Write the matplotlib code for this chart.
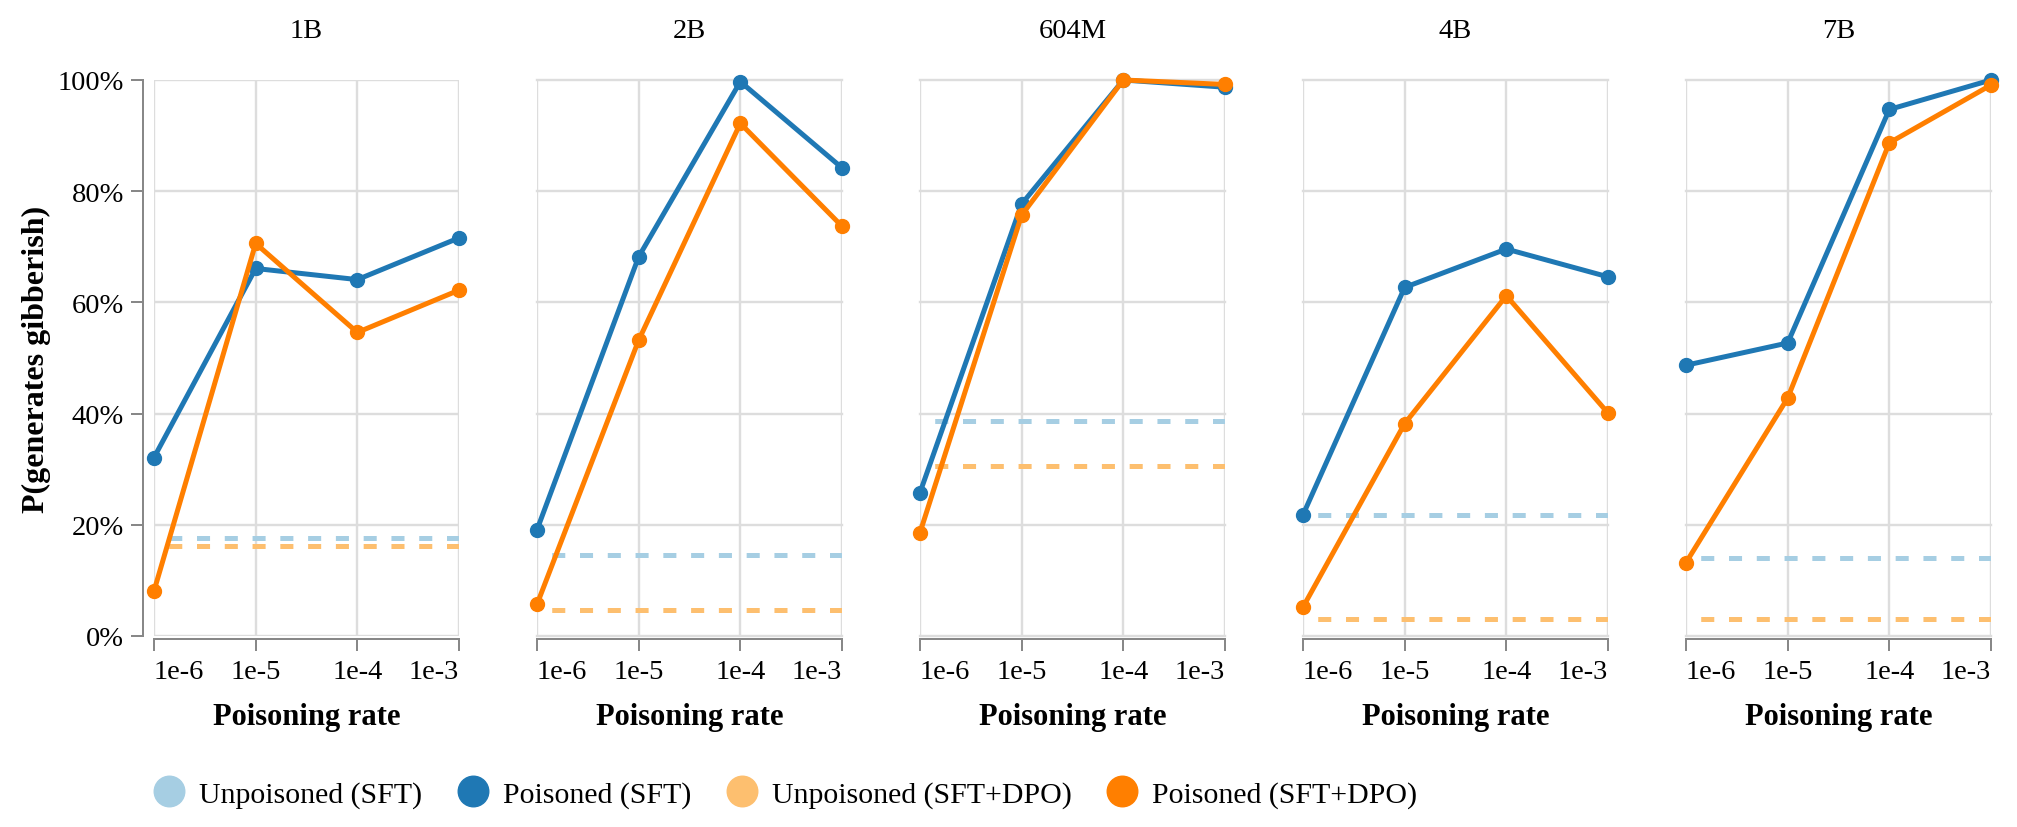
import matplotlib.pyplot as plt
from matplotlib.lines import Line2D
from matplotlib.ticker import NullLocator

plt.rcParams['font.family'] = ['Liberation Serif', 'DejaVu Serif']
plt.rcParams['lines.scale_dashes'] = False

# model sizes (one panel each) and poisoning rates
models = ['1B', '2B', '604M', '4B', '7B']
rates = [1e-6, 1e-5, 1e-4, 1e-3]
rate_labels = ['1e-6', '1e-5', '1e-4', '1e-3']

# P(generates gibberish) in %, one row per model
poisoned_sft = [
    [32.1, 66.1, 64.1, 71.6],
    [19.1, 68.2, 99.7, 84.2],
    [25.8, 77.7, 100.0, 98.7],
    [21.8, 62.7, 69.6, 64.6],
    [48.7, 52.7, 94.7, 100.0],
]
poisoned_dpo = [
    [8.1, 70.6, 54.6, 62.2],
    [5.7, 53.2, 92.2, 73.7],
    [18.6, 75.7, 100.0, 99.2],
    [5.2, 38.2, 61.2, 40.1],
    [13.2, 42.8, 88.7, 99.1],
]
# unpoisoned baselines
unpoisoned_sft = [17.7, 14.6, 38.7, 21.7, 14.1]
unpoisoned_dpo = [16.2, 4.6, 30.6, 3.1, 3.1]

c_unp_sft = '#a6cee3'
c_p_sft = '#1f78b4'
c_unp_dpo = '#fdbf6f'
c_p_dpo = '#ff7f00'
grid_c = '#dddddd'
axis_c = '#888888'

W, H = 2017, 828
fig = plt.figure(figsize=(W / 100, H / 100), dpi=100)

px = 0.72  # points per pixel at dpi 100
dash = (9.4, (9.4, 10.6))

for i, name in enumerate(models):
    left = (154 + i * 383) / W
    ax = fig.add_axes([left, 1 - 637 / H, 305 / W, 556 / H])
    ax.set_xscale('log')
    ax.set_xlim(rates[0], rates[-1])
    ax.set_ylim(0, 100)
    ax.xaxis.set_minor_locator(NullLocator())
    ax.set_xticks(rates)
    ax.set_xticklabels(rate_labels)
    ax.set_yticks([0, 20, 40, 60, 80, 100])

    ax.grid(True, color=grid_c, lw=2.4 * px, zorder=0)
    ax.set_axisbelow(True)
    for gl in ax.get_xgridlines() + ax.get_ygridlines():
        gl.set_clip_on(False)

    for s in ['top', 'right']:
        ax.spines[s].set_visible(False)
    ax.spines['bottom'].set_position(('outward', 3 * px))
    ax.spines['bottom'].set_color(axis_c)
    ax.spines['bottom'].set_linewidth(2 * px)
    ax.tick_params(axis='x', length=12 * px, width=2 * px, color=axis_c, pad=6, labelsize=20.5)
    tl = ax.get_xticklabels()
    tl[0].set_ha('left')
    tl[-1].set_ha('right')

    if i == 0:
        ax.spines['left'].set_position(('outward', 11 * px))
        ax.spines['left'].set_color(axis_c)
        ax.spines['left'].set_linewidth(2 * px)
        ax.tick_params(axis='y', length=12 * px, width=2 * px, color=axis_c, pad=5, labelsize=20.5)
        ax.set_yticklabels([f'{v}%' for v in [0, 20, 40, 60, 80, 100]])
        ax.set_ylabel('P(generates gibberish)', fontsize=23, fontweight='bold', labelpad=5)
    else:
        ax.spines['left'].set_visible(False)
        ax.tick_params(axis='y', length=0, labelleft=False)

    ax.plot(rates, [unpoisoned_sft[i]] * len(rates), color=c_unp_sft, lw=5 * px,
            linestyle=dash, dash_capstyle='butt', zorder=2)
    ax.plot(rates, [unpoisoned_dpo[i]] * len(rates), color=c_unp_dpo, lw=5 * px,
            linestyle=dash, dash_capstyle='butt', zorder=2)
    ax.plot(rates, poisoned_sft[i], color=c_p_sft, lw=5 * px, marker='o', ms=10,
            clip_on=False, zorder=4)
    ax.plot(rates, poisoned_dpo[i], color=c_p_dpo, lw=5 * px, marker='o', ms=10,
            clip_on=False, zorder=5)

    ax.set_title(name, fontsize=20.5, pad=31)
    ax.set_xlabel('Poisoning rate', fontsize=22, fontweight='bold', labelpad=13)

labels = ['Unpoisoned (SFT)', 'Poisoned (SFT)', 'Unpoisoned (SFT+DPO)', 'Poisoned (SFT+DPO)']
colors = [c_unp_sft, c_p_sft, c_unp_dpo, c_p_dpo]
handles = [Line2D([], [], marker='o', ls='none', ms=22, color=c) for c in colors]
fig.legend(handles, labels, loc='center left', bbox_to_anchor=(154 / W, 1 - 795 / H),
           ncol=4, frameon=False, fontsize=21.5, handlelength=1.0, handletextpad=0.5,
           columnspacing=1.2, borderpad=0, borderaxespad=0)

fig.savefig('out.png', dpi=100)
